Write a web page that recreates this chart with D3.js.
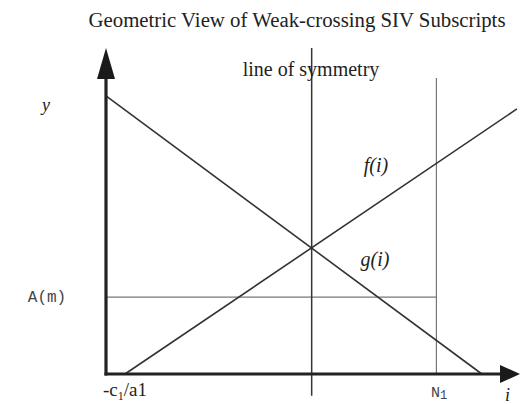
<!DOCTYPE html>
<html>
<head>
<meta charset="utf-8">
<script src="https://cdn.jsdelivr.net/npm/d3@7"></script>
<style>
  html, body { margin: 0; padding: 0; background: #fff; }
  svg { display: block; }
  text { fill: #222; }
</style>
</head>
<body>
<svg id="chart" width="523" height="404"></svg>
<script>
// Abstract diagram coordinates (i along the horizontal, y vertical)
const axisExtent = { i: 10, y: 10 };
// f(i): rising line starting at -c1/a1
const fLine = [ { i: 0.46, y: 0 }, { i: 9.95, y: 8.13 } ];
// g(i): falling line
const gLine = [ { i: 0, y: 8.53 }, { i: 9.10, y: 0 } ];
// vertical line of symmetry through the crossing point
const symmetryLine = [ { i: 4.98, y: 10 }, { i: 4.98, y: -0.67 } ];
// upper bound N1
const boundLine = [ { i: 8.0, y: 9.08 }, { i: 8.0, y: 0 } ];
// level A(m)
const levelLine = [ { i: 0, y: 2.36 }, { i: 8.0, y: 2.36 } ];

const svg = d3.select("#chart");
const x = d3.scaleLinear().domain([0, axisExtent.i]).range([106, 519]);
const y = d3.scaleLinear().domain([0, axisExtent.y]).range([374, 48]);
const line = d3.line().x(d => x(d.i)).y(d => y(d.y));

// thin reference lines
svg.append("path").attr("d", line(levelLine))
  .attr("fill", "none").attr("stroke", "#777").attr("stroke-width", 1.2);
svg.append("path").attr("d", line(boundLine))
  .attr("fill", "none").attr("stroke", "#777").attr("stroke-width", 1.2);
svg.append("path").attr("d", line(symmetryLine))
  .attr("fill", "none").attr("stroke", "#333").attr("stroke-width", 1.5);

// f and g
svg.append("path").attr("d", line(fLine))
  .attr("fill", "none").attr("stroke", "#333").attr("stroke-width", 1.6);
svg.append("path").attr("d", line(gLine))
  .attr("fill", "none").attr("stroke", "#333").attr("stroke-width", 1.6);

// axes with arrowheads
const ax0 = x(0), ay0 = y(0);
svg.append("line")
  .attr("x1", ax0).attr("y1", ay0 + 1.5).attr("x2", ax0).attr("y2", y(axisExtent.y) + 20)
  .attr("stroke", "#222").attr("stroke-width", 3.2);
svg.append("line")
  .attr("x1", ax0 - 1.5).attr("y1", ay0).attr("x2", x(axisExtent.i) - 12).attr("y2", ay0)
  .attr("stroke", "#222").attr("stroke-width", 3.2);
const ty = y(axisExtent.y);
svg.append("path")
  .attr("d", `M${ax0},${ty} L${ax0 - 9},${ty + 31} L${ax0 + 9},${ty + 31} Z`)
  .attr("fill", "#1a1a1a");
const tx = x(axisExtent.i) + 1;
svg.append("path")
  .attr("d", `M${tx},${ay0} L${tx - 20},${ay0 - 9} L${tx - 20},${ay0 + 9} Z`)
  .attr("fill", "#1a1a1a");

// labels
const serif = "'Liberation Serif', 'Times New Roman', serif";
const mono = "'Liberation Mono', 'Courier New', monospace";

svg.append("text").attr("x", 297).attr("y", 27)
  .attr("text-anchor", "middle").attr("font-family", serif).attr("font-size", 20.8)
  .text("Geometric View of Weak-crossing SIV Subscripts");

svg.append("text").attr("x", 311).attr("y", 76)
  .attr("text-anchor", "middle").attr("font-family", serif).attr("font-size", 20)
  .text("line of symmetry");

svg.append("text").attr("x", 46).attr("y", 111)
  .attr("text-anchor", "middle").attr("font-family", serif).attr("font-style", "italic")
  .attr("font-size", 18).text("y");

svg.append("text").attr("x", 376).attr("y", 172)
  .attr("text-anchor", "middle").attr("font-family", serif).attr("font-style", "italic")
  .attr("font-size", 20).text("f(i)");

svg.append("text").attr("x", 375).attr("y", 266)
  .attr("text-anchor", "middle").attr("font-family", serif).attr("font-style", "italic")
  .attr("font-size", 20).text("g(i)");

svg.append("text").attr("x", 47).attr("y", 302)
  .attr("text-anchor", "middle").attr("font-family", mono).attr("font-size", 16)
  .style("fill", "#444").text("A(m)");

const c1 = svg.append("text").attr("x", 103).attr("y", 396)
  .attr("font-family", serif).attr("font-size", 19);
c1.append("tspan").text("-c");
c1.append("tspan").attr("font-size", 12).attr("dy", 4).text("1");
c1.append("tspan").attr("dy", -4).text("/a1");

const n1 = svg.append("text").attr("x", 431).attr("y", 397)
  .attr("font-family", mono).attr("font-size", 15)
  .style("fill", "#444");
n1.append("tspan").text("N");
n1.append("tspan").attr("font-size", 12).attr("dy", 2).text("1");

svg.append("text").attr("x", 505).attr("y", 401)
  .attr("font-family", serif).attr("font-style", "italic").attr("font-size", 18)
  .text("i");
</script>
</body>
</html>
